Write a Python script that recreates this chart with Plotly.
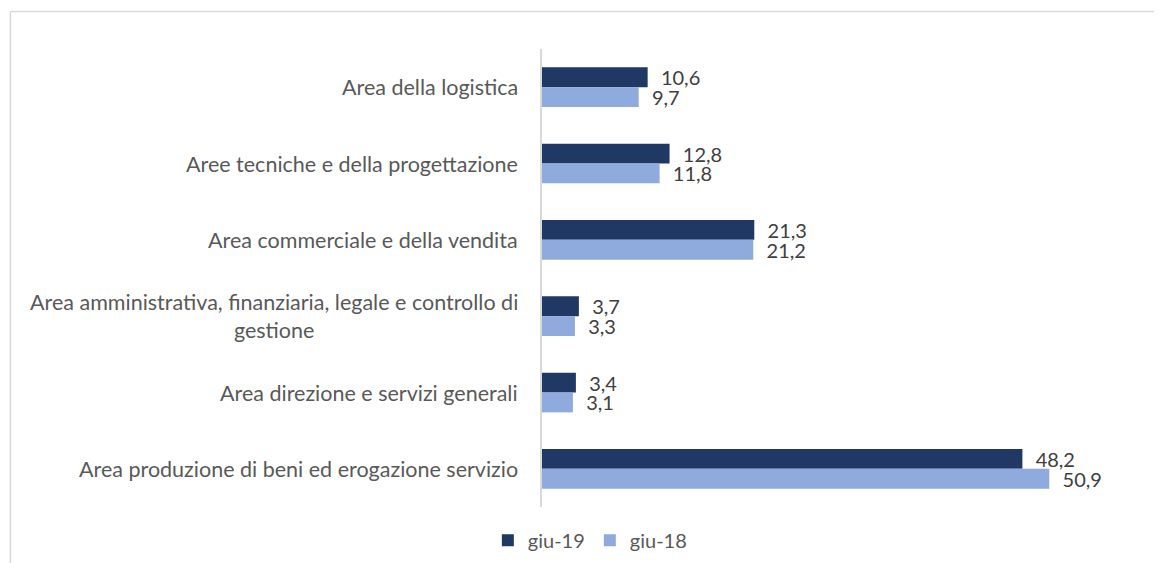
import plotly.graph_objects as go

categories = [
    "Area della logistica",
    "Aree tecniche e della progettazione",
    "Area commerciale e della vendita",
    "Area amministrativa, finanziaria, legale e controllo di<br>gestione",
    "Area direzione e servizi generali",
    "Area produzione di beni ed erogazione servizio",
]
giu19 = [10.6, 12.8, 21.3, 3.7, 3.4, 48.2]
giu18 = [9.7, 11.8, 21.2, 3.3, 3.1, 50.9]

FONT = "Lato"
LABEL_TPL = "\u00a0\u00a0%{x:.1f}"

fig = go.Figure()
fig.add_trace(go.Bar(
    y=categories, x=giu19, orientation="h", name="giu-19",
    marker=dict(color="#203864", line=dict(width=0)),
    texttemplate=LABEL_TPL, textposition="outside", constraintext="none",
    textfont=dict(family=FONT, size=20, color="#404040"),
    cliponaxis=False,
))
fig.add_trace(go.Bar(
    y=categories, x=giu18, orientation="h", name="giu-18",
    marker=dict(color="#8FAADC", line=dict(width=0)),
    texttemplate=LABEL_TPL, textposition="outside", constraintext="none",
    textfont=dict(family=FONT, size=20, color="#404040"),
    cliponaxis=False,
))

annotations = []
for c in categories:
    annotations.append(dict(
        x=0, y=c, xref="x", yref="y", text=c, showarrow=False,
        xanchor="right", yanchor="middle", align="center", xshift=-22,
        font=dict(family=FONT, size=21.5, color="#595959"),
    ))

fig.update_layout(
    width=1162, height=563,
    margin=dict(l=534, r=30, t=41, b=63),
    paper_bgcolor="white", plot_bgcolor="white",
    barmode="group", bargap=0.48, bargroupgap=0,
    separators=",.",
    font=dict(family=FONT, color="#595959"),
    showlegend=True,
    legend=dict(orientation="h", x=0.08, xanchor="center", y=-0.028, yanchor="top",
                font=dict(family=FONT, size=20, color="#595959"),
                itemwidth=30, tracegroupgap=0),
    annotations=annotations,
    shapes=[
        dict(type="line", xref="paper", yref="paper", x0=-0.889, x1=-0.889, y0=-0.3, y1=1.082,
             line=dict(color="#d9d9d9", width=1.5)),
        dict(type="line", xref="paper", yref="paper", x0=-0.889, x1=1.2, y0=1.082, y1=1.082,
             line=dict(color="#d9d9d9", width=1.5)),
    ],
)
fig.update_xaxes(range=[0, 60], showgrid=False, zeroline=False, showticklabels=False,
                 ticks="", showline=False)
fig.update_yaxes(categoryorder="array", categoryarray=categories, autorange="reversed",
                 showticklabels=False, ticks="", showgrid=False,
                 showline=True, linecolor="#d9d9d9", linewidth=2)

fig.write_html("out.html")
